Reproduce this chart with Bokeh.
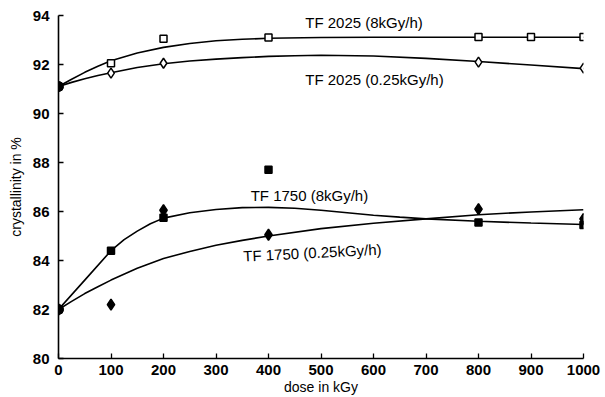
from bokeh.plotting import figure
from bokeh.models import Label, FixedTicker
from bokeh.embed import file_html
from bokeh.resources import INLINE

# ---- measured points ----
dose_2025_8 = [0, 100, 200, 400, 800, 900, 1000]
cryst_2025_8 = [91.1, 92.05, 93.05, 93.1, 93.12, 93.12, 93.12]

dose_2025_025 = [0, 100, 200, 800, 1000]
cryst_2025_025 = [91.1, 91.65, 92.05, 92.1, 91.85]

dose_1750_8 = [0, 100, 200, 400, 800, 1000]
cryst_1750_8 = [82.0, 84.4, 85.75, 87.7, 85.55, 85.45]

dose_1750_025 = [0, 100, 200, 400, 800, 1000]
cryst_1750_025 = [82.0, 82.2, 86.05, 85.05, 86.1, 85.7]

# ---- fitted curves ----
fit_dose_2025_8 = [0, 25, 50, 75, 100, 150, 200, 250, 300, 350, 400, 500, 600, 700, 800, 900, 1000]
fit_2025_8 = [91.1, 91.4, 91.68, 91.93, 92.15, 92.47, 92.7, 92.86, 92.97, 93.03, 93.07, 93.1,
              93.11, 93.11, 93.11, 93.11, 93.11]

fit_dose_2025_025 = [0, 25, 50, 75, 100, 150, 200, 250, 300, 350, 400, 450, 500, 600, 700, 800, 900, 1000]
fit_2025_025 = [91.1, 91.27, 91.42, 91.55, 91.66, 91.88, 92.03, 92.14, 92.22, 92.28, 92.33, 92.36,
                92.38, 92.35, 92.25, 92.12, 91.98, 91.83]

fit_dose_1750_8 = [0, 50, 100, 125, 150, 175, 200, 250, 300, 350, 400, 450, 500, 550, 600, 650,
                   700, 800, 900, 1000]
fit_1750_8 = [82.0, 83.2, 84.4, 84.85, 85.2, 85.5, 85.73, 85.95, 86.08, 86.16, 86.17, 86.13, 86.05,
              85.95, 85.85, 85.77, 85.7, 85.6, 85.53, 85.47]

fit_dose_1750_025 = [0, 25, 50, 75, 100, 150, 200, 250, 300, 350, 400, 500, 600, 700, 800, 900, 1000]
fit_1750_025 = [82.0, 82.33, 82.65, 82.93, 83.2, 83.68, 84.08, 84.37, 84.62, 84.82, 85.0, 85.3,
                85.52, 85.7, 85.87, 85.98, 86.07]

x_ticks = [0, 100, 200, 300, 400, 500, 600, 700, 800, 900, 1000]
y_ticks = [80, 82, 84, 86, 88, 90, 92, 94]

p = figure(width=605, height=397, x_range=(0, 1000), y_range=(80, 94),
           output_backend="svg", toolbar_location=None,
           min_border_left=58, min_border_right=22, min_border_top=15, min_border_bottom=38)
p.outline_line_color = None
p.grid.visible = False
p.background_fill_color = "white"

for ax in (p.xaxis, p.yaxis):
    ax.axis_line_width = 1.6
    ax.axis_line_color = "black"
    ax.major_tick_in = 5
    ax.major_tick_out = 0
    ax.major_tick_line_width = 1.3
    ax.minor_tick_line_color = None
    ax.major_label_text_font = "Liberation Sans"
    ax.major_label_text_font_style = "bold"
    ax.major_label_text_font_size = "15px"
    ax.major_label_text_color = "black"
    ax.axis_label_text_font = "Liberation Sans"
    ax.axis_label_text_font_style = "normal"
    ax.axis_label_text_font_size = "14px"
    ax.axis_label_text_color = "black"

p.xaxis.ticker = FixedTicker(ticks=x_ticks)
p.yaxis.ticker = FixedTicker(ticks=y_ticks)
p.xaxis.axis_label = "dose in kGy"
p.yaxis.axis_label = "crystallinity in %"
p.xaxis.major_label_standoff = 6
p.yaxis.major_label_standoff = 9
p.xaxis.axis_label_standoff = 1
p.yaxis.axis_label_standoff = 6

lw = 1.6
p.line(fit_dose_2025_8, fit_2025_8, line_color="black", line_width=lw)
p.line(fit_dose_2025_025, fit_2025_025, line_color="black", line_width=lw)
p.line(fit_dose_1750_8, fit_1750_8, line_color="black", line_width=lw)
p.line(fit_dose_1750_025, fit_1750_025, line_color="black", line_width=lw)

fill_2025_8 = ["black" if d == 0 else "white" for d in dose_2025_8]
fill_2025_025 = ["black" if d == 0 else "white" for d in dose_2025_025]
p.scatter(dose_2025_8, cryst_2025_8, marker="square", size=7, line_color="black",
          line_width=1.5, fill_color=fill_2025_8)
p.scatter(dose_2025_025, cryst_2025_025, marker="diamond", size=10, line_color="black",
          line_width=1.5, fill_color=fill_2025_025)
p.scatter(dose_1750_8, cryst_1750_8, marker="square", size=7, line_color="black",
          line_width=1.5, fill_color="black")
p.scatter(dose_1750_025, cryst_1750_025, marker="diamond", size=11, line_color="black",
          line_width=1.5, fill_color="black")
p.scatter([0, 0], [91.1, 82.0], marker="circle", size=10, fill_color="black", line_color="black")

def lab(x, y, t, angle=0.0):
    p.add_layout(Label(x=x, y=y, text=t, text_font="Liberation Sans", text_font_size="15px",
                       text_baseline="middle", text_align="left", text_color="black",
                       angle=angle))

lab(470, 93.7, "TF 2025 (8kGy/h)")
lab(470, 91.38, "TF 2025 (0.25kGy/h)")
lab(366, 86.64, "TF 1750 (8kGy/h)")
lab(352, 84.18, "TF 1750 (0.25kGy/h)", angle=0.05)

open("out.html", "w").write(file_html(p, INLINE))
